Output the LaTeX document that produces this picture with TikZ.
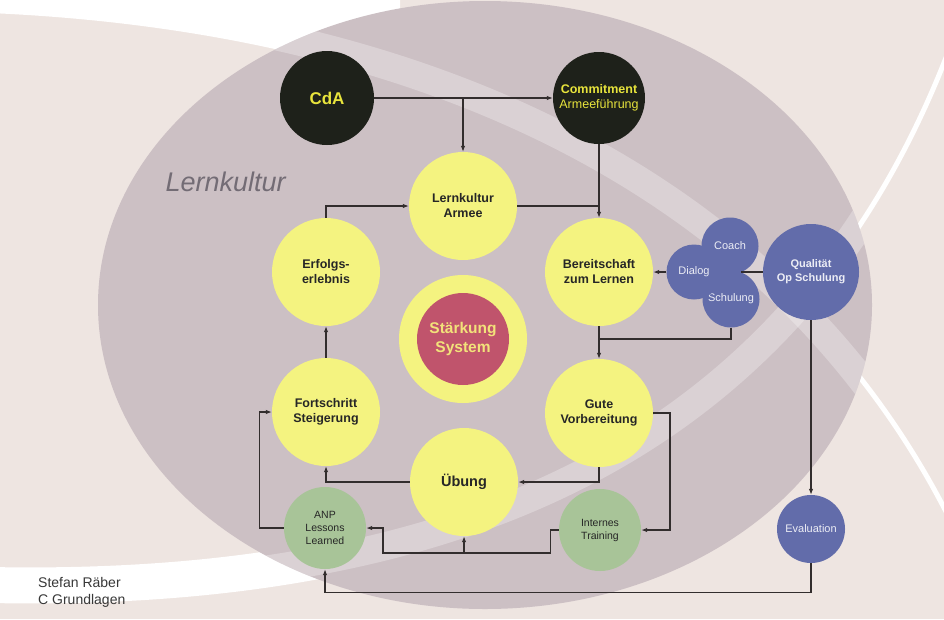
\documentclass[tikz,border=0pt]{standalone}
\usepackage{fontspec}
\setmainfont{Liberation Sans}
\usetikzlibrary{arrows.meta}
\definecolor{bgc}{RGB}{238,229,225}
\definecolor{mauve}{RGB}{204,192,196}
\definecolor{blk}{RGB}{30,33,26}
\definecolor{yel}{RGB}{244,243,128}
\definecolor{grn}{RGB}{168,196,152}
\definecolor{blu}{RGB}{98,108,170}
\definecolor{redc}{RGB}{192,84,108}
\definecolor{ln}{RGB}{50,45,45}
\definecolor{txty}{RGB}{232,228,60}
\definecolor{txtr}{RGB}{242,226,122}
\definecolor{lkc}{RGB}{115,108,117}
\begin{document}
\begin{tikzpicture}[x=1pt,y=-1pt,
  circ/.style={circle, inner sep=0pt, align=center},
  yc/.style={circ, fill=yel, minimum size=108pt, font=\bfseries\fontsize{12.5}{15}\selectfont, text=black!85},
  bc/.style={circ, fill=blk, minimum size=94pt, text=txty},
  gc/.style={circ, fill=grn, minimum size=82pt, font=\fontsize{10.5}{13}\selectfont, text=black!85},
  uc/.style={circ, fill=blu, text=white!88!blu, font=\fontsize{11}{13}\selectfont},
  conn/.style={draw=ln, line width=1.1pt},
  arr/.style={conn, -{Latex[length=6pt,width=4.5pt]}},
  bandA/.style={insert path={(-10,585) .. controls (500,595) and (820,420) .. (960,20)}},
  bandB/.style={insert path={(-10,0) .. controls (450,20) and (800,200) .. (960,540)}},
]
\useasboundingbox (0,0) rectangle (944,619);
% ---------- background decoration ----------
\begin{scope}
  \clip (0,0) rectangle (944,619);
  \fill[bgc] (0,0) rectangle (944,619);
  \begin{scope}
    \clip (0,0) rectangle (400,619);
    \fill[white] (-10,-40) -- (-10,13) .. controls (450,33) and (800,213) .. (960,553) -- (960,-40) -- cycle;
    \draw[white, line width=36pt, bandA];
  \end{scope}
  \draw[white, line width=5pt, bandA];
  \draw[white, line width=5pt, bandB];
  \fill[mauve] (485,305) ellipse [x radius=387, y radius=304];
  \begin{scope}
    \clip (485,305) ellipse [x radius=387, y radius=304];
    \draw[white, opacity=0.28, line width=28pt, bandA];
    \draw[white, opacity=0.28, line width=28pt, bandB];
  \end{scope}
\end{scope}
% ---------- nodes ----------
\node[bc, font=\bfseries\fontsize{17}{20}\selectfont] (cda) at (327,98) {CdA};
\node[bc, minimum size=92pt, font=\fontsize{12.5}{15}\selectfont] (com) at (599,98) {\textbf{Commitment}\\Armeef\"uhrung};
\node[yc] (lka) at (463,206) {Lernkultur\\Armee};
\node[yc] (ber) at (599,272) {Bereitschaft\\zum Lernen};
\node[yc] (erf) at (326,272) {Erfolgs-\\erlebnis};
\node[yc] (gut) at (599,413) {Gute\\Vorbereitung};
\node[yc] (fort) at (326,412) {Fortschritt\\Steigerung};
\node[yc, font=\bfseries\fontsize{14.5}{17}\selectfont] (ueb) at (464,482) {\"Ubung};
\node[circ, fill=yel, minimum size=128pt] (sysring) at (463,339) {};
\node[circ, fill=redc, minimum size=92pt, text=txtr, font=\bfseries\fontsize{15.5}{19}\selectfont] (sys) at (463,339) {St\"arkung\\System};
\node[gc] (anp) at (325,528) {ANP\\Lessons\\Learned};
\node[gc] (int) at (600,530) {Internes\\Training};
\node[uc, minimum size=57pt] (coach) at (730,246) {Coach};
\node[uc, minimum size=57pt] (schul) at (731,299) {Schulung};
\node[uc, minimum size=55pt] (dia) at (694,272) {Dialog};
\node[uc, minimum size=96pt, font=\bfseries\fontsize{11}{14}\selectfont] (qual) at (811,272) {Qualit\"at\\Op Schulung};
\node[uc, minimum size=68pt] (eval) at (811,529) {Evaluation};
\node[anchor=base west, font=\itshape\fontsize{27}{30}\selectfont, text=lkc] (lk) at (162,191) {Lernkultur};
\node[anchor=base west, inner sep=0pt, font=\fontsize{14}{16}\selectfont, text=black!78] (au1) at (38,587) {Stefan R\"aber};
\node[anchor=base west, inner sep=0pt, font=\fontsize{14}{16}\selectfont, text=black!78] (au2) at (38,604) {C Grundlagen};
% ---------- connectors ----------
\coordinate (j1) at (463,98);
\coordinate (j2) at (599,339);
\coordinate (notch) at (741,272);
\coordinate (r1) at (670,413);
\coordinate (j3) at (464,553);
\draw[arr] (cda.east) -- (com.west);
\draw[arr] (j1) -- (lka.north);
\draw[arr] (com.south) -- (ber.north);
\draw[conn] (lka.east) -- (lka.east -| ber.north);
\draw[arr] (erf.north) |- (lka.west);
\draw[arr] (fort.north) -- (erf.south);
\draw[arr] (ueb.west) -| (fort.south);
\draw[arr] (ber.south) -- (gut.north);
\draw[conn] (schul.south) |- (j2);
\draw[conn] (qual.west) -- (notch);
\draw[arr] (dia.west) -- (ber.east);
\draw[arr] (gut.south) |- (ueb.east);
\draw[arr] (gut.east) -- (r1) |- (int.east);
\draw[arr] (int.west) -- ++(-8,0) |- (383,553) |- (anp.east);
\draw[arr] (j3) -- (ueb.south);
\draw[arr] (anp.west) -- ++(-24,0) |- (fort.west);
\draw[arr] (qual.south) -- (eval.north);
\draw[arr] (eval.south) -- ++(0,29) -| (anp.south);
\end{tikzpicture}
\end{document}
